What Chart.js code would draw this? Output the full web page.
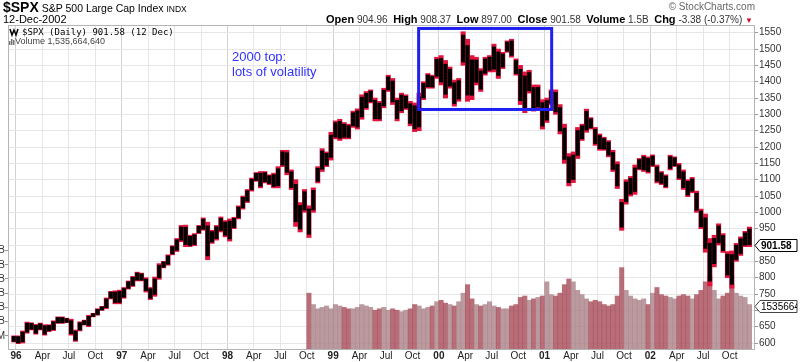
<!DOCTYPE html>
<html>
<head>
<meta charset="utf-8">
<script src="https://cdn.jsdelivr.net/npm/chart.js@4.4.0/dist/chart.umd.min.js"></script>
<style>
  body { margin: 0; background: #fff; }
  #wrap { position: relative; width: 800px; height: 362px; font-family: Arial, "Liberation Sans", sans-serif; }
  #spxChart { position: absolute; left: 0; top: 0; }
  .t { position: absolute; white-space: nowrap; color: #000; }
  .hdr b { font-size: 11px; }
  .hdr span.v { color: #333; }
</style>
</head>
<body>
<div id="wrap">
  <canvas id="spxChart" width="800" height="362"></canvas>
  <div class="t" style="left:3px;top:0px;font-size:10.5px;line-height:14px"><b style="font-size:14px">$SPX</b> S&amp;P 500 Large Cap Index <span style="font-size:8.5px">INDX</span></div>
  <div class="t" style="left:3px;top:13px;font-size:11px;line-height:12px">12-Dec-2002</div>
  <div class="t hdr" style="right:47px;top:13px;font-size:10px;line-height:12px"><b>Open</b> <span class="v">904.96</span> &nbsp;<b>High</b> <span class="v">908.37</span> &nbsp;<b>Low</b> <span class="v">897.00</span> &nbsp;<b>Close</b> <span class="v">901.58</span> &nbsp;<b>Volume</b> <span class="v">1.5B</span> &nbsp;<b>Chg</b> <span class="v">-3.38 (-0.37%)</span> <span style="color:#c8102e;font-size:8px">&#9660;</span></div>
  <div class="t" style="right:45px;top:1px;font-size:10px;line-height:12px;color:#666">&copy; StockCharts.com</div>
  <div class="t" style="left:22px;top:26px;font:9px 'DejaVu Sans Mono', monospace;line-height:12px">$SPX (Daily) 901.58 (12 Dec)</div>
  <div class="t" style="left:15px;top:36px;font-size:9px;line-height:11px;color:#444">Volume 1,535,664,640</div>
  <div class="t" style="left:232px;top:49px;font-size:13px;line-height:15px;color:#3232ff">2000 top:<br>lots of volatility</div>
</div>
<script>
// half-month samples, months counted from Jan 1996 (first sample = late Dec 1995)
const firstMonth = -0.25;
const step = 0.5;

const priceLow = [
  603,
  598, 600, 630, 640, 627, 640, 624, 635, 638, 660, 660, 662, 624, 605, 637, 655, 650, 680, 685, 700, 705, 735, 720, 720,
  737, 765, 773, 790, 790, 756, 733, 743, 795, 830, 838, 870, 880, 910, 895, 895, 898, 935, 945, 855, 905, 915, 940, 925,
  912, 950, 980, 1010, 1030, 1065, 1095, 1075, 1090, 1085, 1075, 1075, 1140, 1115, 1070, 957, 940, 1000, 923, 1000, 1090, 1125, 1140, 1160,
  1225, 1220, 1225, 1225, 1260, 1255, 1285, 1315, 1335, 1280, 1280, 1320, 1370, 1330, 1280, 1305, 1315, 1265, 1247, 1250, 1345, 1380, 1380, 1410,
  1390, 1350, 1380, 1325, 1340, 1450, 1340, 1345, 1390, 1370, 1420, 1430, 1430, 1410, 1440, 1490, 1475, 1420, 1330, 1305, 1365, 1310, 1315, 1255,
  1275, 1330, 1300, 1240, 1150, 1081, 1091, 1165, 1220, 1245, 1255, 1205, 1190, 1190, 1170, 1125, 1073, 945, 1025, 1050, 1055, 1130, 1125, 1120,
  1140, 1090, 1085, 1075, 1130, 1140, 1100, 1070, 1048, 1060, 1000, 950, 878, 775, 833, 900, 877, 800, 768, 850, 868, 895, 895
];
const priceHigh = [
  622,
  622, 637, 664, 662, 657, 661, 656, 656, 668, 680, 680, 676, 673, 640, 665, 670, 685, 691, 705, 712, 738, 758, 760, 762,
  770, 790, 804, 817, 814, 800, 770, 802, 843, 850, 870, 898, 920, 960, 961, 930, 935, 960, 983, 970, 945, 960, 986, 975,
  980, 985, 1020, 1050, 1070, 1105, 1122, 1125, 1125, 1115, 1120, 1140, 1190, 1190, 1130, 1100, 1030, 1070, 1020, 1075, 1140, 1195, 1185, 1245,
  1280, 1285, 1275, 1270, 1310, 1317, 1360, 1370, 1375, 1350, 1340, 1380, 1420, 1410, 1350, 1365, 1360, 1340, 1335, 1365, 1400, 1425, 1420, 1475,
  1480, 1465, 1445, 1405, 1410, 1553, 1530, 1480, 1475, 1440, 1475, 1480, 1515, 1500, 1490, 1525, 1530, 1470, 1450, 1430, 1435, 1390, 1390, 1345,
  1350, 1375, 1375, 1330, 1270, 1180, 1185, 1260, 1270, 1316, 1290, 1260, 1240, 1230, 1220, 1190, 1155, 1040, 1100, 1110, 1145, 1165, 1175, 1170,
  1176, 1145, 1125, 1115, 1175, 1170, 1150, 1130, 1100, 1107, 1065, 1010, 995, 920, 930, 965, 935, 880, 882, 905, 925, 942, 955
];

// volume in billions, starting Oct 1998 (sample index 67)
const volumeFrom = 67;
const volumeBn = [
  2.0, 1.6, 1.45, 1.5, 1.55, 1.45,
  1.6, 1.55, 1.5, 1.45, 1.45, 1.5, 1.6, 1.55, 1.5, 1.4, 1.45, 1.5, 1.4, 1.45, 1.4, 1.35, 1.4, 1.45, 1.6, 1.55, 1.45, 1.5, 1.55, 1.7,
  1.75, 1.65, 1.6, 1.55, 1.7, 2.0, 2.3, 1.8, 1.6, 1.55, 1.6, 1.7, 1.55, 1.5, 1.45, 1.45, 1.55, 1.6, 1.85, 1.9, 1.75, 1.8, 1.85, 1.9,
  2.4, 1.95, 1.9, 2.0, 2.3, 2.5, 2.4, 2.1, 1.95, 1.8, 1.7, 1.75, 1.7, 1.6, 1.55, 1.6, 1.9, 2.9, 2.1, 1.9, 1.8, 1.75, 1.8, 1.6,
  2.0, 2.2, 1.95, 1.9, 1.85, 1.8, 1.9, 1.95, 1.9, 1.8, 1.95, 2.1, 2.4, 2.6, 2.1, 1.8, 1.9, 2.0, 2.3, 2.0, 1.9, 1.85, 1.6
];

const priceTicks = [600, 650, 700, 750, 800, 850, 900, 950, 1000, 1050, 1100, 1150, 1200, 1250, 1300, 1350, 1400, 1450, 1500, 1550];
const volumeTicks = [0.5, 1.0, 1.5, 2.0, 2.5, 3.0, 3.5];
const quarterTicks = [0, 3, 6, 9, 12, 15, 18, 21, 24, 27, 30, 33, 36, 39, 42, 45, 48, 51, 54, 57, 60, 63, 66, 69, 72, 75, 78, 81];
const quarterNames = ['Apr', 'Jul', 'Oct'];

const lastClose = 901.58;
const lastVolume = 1535664640;

// "2000 top" box, in months / index points
const boxFrom = 45.7, boxTo = 60.8, boxLow = 1315, boxHigh = 1563;

const FONT = "Arial, 'Liberation Sans', sans-serif";

const monthOf = i => firstMonth + i * step;
const rangeData = priceHigh.map((h, i) => ({ x: monthOf(i), y: [priceLow[i], h] }));
const bodyData = priceHigh.map((h, i) => {
  const r = h - priceLow[i];
  return { x: monthOf(i), y: [priceLow[i] + r * 0.1, h - r * 0.1] };
});
const volumeData = volumeBn.map((v, k) => ({ x: monthOf(volumeFrom + k), y: v }));
const volumeColors = volumeBn.map((v, k) => {
  const i = volumeFrom + k;
  const mid = (priceHigh[i] + priceLow[i]) / 2;
  const prev = (priceHigh[i - 1] + priceLow[i - 1]) / 2;
  return mid < prev ? 'rgba(168,78,90,0.82)' : 'rgba(172,132,138,0.82)';
});

function drawTag(ctx, x, y, text, font, color) {
  const w = 42, h = 12;
  ctx.save();
  ctx.beginPath();
  ctx.moveTo(x, y);
  ctx.lineTo(x + 5, y - h / 2);
  ctx.lineTo(x + w, y - h / 2);
  ctx.lineTo(x + w, y + h / 2);
  ctx.lineTo(x + 5, y + h / 2);
  ctx.closePath();
  ctx.fillStyle = '#fff';
  ctx.fill();
  ctx.strokeStyle = color;
  ctx.lineWidth = 1;
  ctx.stroke();
  ctx.clip();
  ctx.fillStyle = '#000';
  ctx.font = font;
  ctx.textBaseline = 'middle';
  ctx.fillText(text, x + 6, y + 0.5);
  ctx.restore();
}

const overlay = {
  id: 'overlay',
  afterDraw(chart) {
    const { ctx, chartArea: a, scales } = chart;
    ctx.save();
    ctx.strokeStyle = '#b4b4b4';
    ctx.lineWidth = 1;
    ctx.strokeRect(a.left + 0.5, a.top + 0.5, a.right - a.left - 1, a.bottom - a.top - 1);

    // legend icons
    ctx.strokeStyle = '#000';
    ctx.lineWidth = 1.5;
    ctx.beginPath();
    ctx.moveTo(10, 29); ctx.lineTo(12, 35); ctx.lineTo(14, 30); ctx.lineTo(16, 35); ctx.lineTo(18, 29);
    ctx.stroke();
    ctx.fillStyle = '#777';
    ctx.fillRect(9, 41, 1.5, 4); ctx.fillRect(11, 39, 1.5, 6); ctx.fillRect(13, 40, 1.5, 5);

    // blue box
    const x1 = scales.x.getPixelForValue(boxFrom), x2 = scales.x.getPixelForValue(boxTo);
    const y1 = scales.y.getPixelForValue(boxHigh), y2 = scales.y.getPixelForValue(boxLow);
    ctx.strokeStyle = '#1f1ff2';
    ctx.lineWidth = 3;
    ctx.strokeRect(x1, y1, x2 - x1, y2 - y1);
    ctx.restore();

    drawTag(ctx, a.right, Math.round(scales.y.getPixelForValue(lastClose)) + 0.5, lastClose.toFixed(2), 'bold 10px ' + FONT, '#000');
    drawTag(ctx, a.right, Math.round(scales.yVol.getPixelForValue(lastVolume / 1e9)) + 0.5, String(lastVolume), '10px ' + FONT, '#444');
  }
};

new Chart(document.getElementById('spxChart'), {
  type: 'bar',
  data: {
    datasets: [
      { data: bodyData, backgroundColor: '#000', barThickness: 3.4, grouped: false, yAxisID: 'y', order: 0 },
      { data: rangeData, backgroundColor: '#e0143c', barThickness: 4.4, grouped: false, yAxisID: 'y', order: 1 },
      { data: volumeData, backgroundColor: volumeColors, barThickness: 4.4, grouped: false, yAxisID: 'yVol', order: 2 }
    ]
  },
  options: {
    responsive: false,
    animation: false,
    layout: { padding: { top: 25, left: 0, right: 0, bottom: 0 } },
    plugins: { legend: { display: false }, tooltip: { enabled: false } },
    scales: {
      x: {
        type: 'linear',
        offset: false,
        min: -0.908,
        max: 83.88,
        afterFit(s) { s.height = 12; },
        afterBuildTicks(s) { s.ticks = quarterTicks.map(v => ({ value: v })); },
        ticks: {
          autoSkip: false,
          maxRotation: 0,
          padding: 0,
          color: '#222',
          font: c => ({ family: FONT, size: 10, weight: c.tick && c.tick.value % 12 === 0 ? 'bold' : 'normal' }),
          callback: v => v % 12 === 0 ? String(96 + v / 12).slice(-2).padStart(2, '0') : quarterNames[(v % 12) / 3 - 1]
        },
        grid: {
          offset: false,
          drawTicks: false,
          color: c => c.tick && c.tick.value % 12 === 0 ? '#d2d2d2' : '#e6e6e6'
        },
        border: { display: false }
      },
      y: {
        position: 'right',
        min: 578.6,
        max: 1573.6,
        afterFit(s) { s.width = 45; },
        afterBuildTicks(s) { s.ticks = priceTicks.map(v => ({ value: v })); },
        ticks: { color: '#333', padding: 1, font: { family: FONT, size: 10 }, callback: v => String(v) },
        grid: { color: '#e6e6e6', tickLength: 3, tickColor: '#999' },
        border: { display: false }
      },
      yVol: {
        position: 'left',
        min: 0,
        max: 11.44,
        afterFit(s) { s.width = 8; },
        afterBuildTicks(s) { s.ticks = volumeTicks.map(v => ({ value: v })); },
        ticks: {
          color: '#333',
          padding: 0,
          font: { family: FONT, size: 10 },
          callback: v => v < 1 ? Math.round(v * 1000) + 'M' : v.toFixed(1) + 'B'
        },
        grid: { drawOnChartArea: false, tickLength: 3, tickColor: '#999' },
        border: { display: false }
      }
    }
  },
  plugins: [overlay]
});
</script>
</body>
</html>
